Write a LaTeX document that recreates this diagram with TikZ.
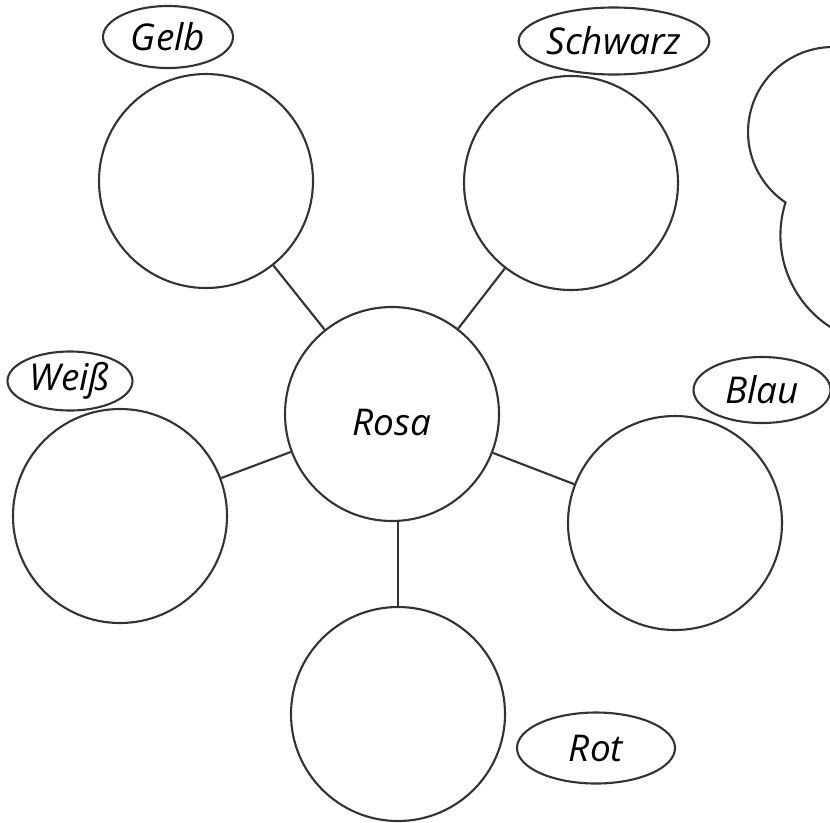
\documentclass[tikz,border=0pt]{standalone}
\usepackage{fontspec}
\setmainfont{Open Sans}
\usetikzlibrary{shapes,positioning}

\begin{document}
\begin{tikzpicture}[x=0.2mm, y=-0.2mm, line width=1.2pt,
    bubble/.style={circle, draw=black!80, minimum size=42.8mm, inner sep=0pt},
    tag/.style={ellipse, draw=black!80, minimum height=12.4mm, inner sep=0pt},
    font=\fontsize{21}{25}\selectfont\itshape]
    \useasboundingbox (0,0) rectangle (830,822);

    % Centre and the five colour circles
    \node[bubble, text height=25pt] (rosa) at (392,414) {Rosa};
    \node[bubble] (gelb) at (206,181) {};
    \node[bubble] (schwarz) at (571,183) {};
    \node[bubble] (weiss) at (120,516) {};
    \node[bubble] (blau) at (675,523) {};
    \node[bubble] (rot) at (398,714) {};

    % Name tags
    \node[tag, minimum width=26mm] (gelbtag) at (168,37) {Gelb};
    \node[tag, minimum width=38mm, minimum height=13.4mm] (schwarztag) at (614,41) {Schwarz};
    \node[tag, minimum width=25mm, minimum height=11.8mm] (weisstag) at (70,381) {Weiß};
    \node[tag, minimum width=27.4mm, minimum height=13.2mm] (blautag) at (762,390) {Blau};
    \node[tag, minimum width=31.6mm, minimum height=14.2mm] (rottag) at (596,748) {Rot};

    % Connecting lines
    \draw[black!80] (rosa) -- (gelb);
    \draw[black!80] (rosa) -- (schwarz);
    \draw[black!80] (rosa) -- (weiss);
    \draw[black!80] (rosa) -- (blau);
    \draw[black!80] (rot.north) -- (rot.north |- rosa.south);

    % Cut-off shape at the right edge
    \begin{scope}
        \clip (0,0) rectangle (830,822);
        \draw[black!80] (847.8,48.3) arc[start angle=280, end angle=124, radius=85]
            arc[start angle=197.6, end angle=115, radius=109];
    \end{scope}
\end{tikzpicture}
\end{document}
